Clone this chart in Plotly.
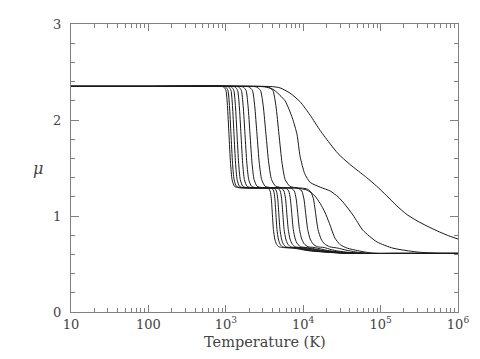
import plotly.graph_objects as go

# log10(T) and mean molecular weight for each curve
logT_1 = [1.0, 2.0, 2.921, 2.971, 3.001, 3.021, 3.041, 3.061, 3.081, 3.111, 3.161, 3.40, 3.523, 3.553, 3.573, 3.588, 3.603, 3.615, 3.633, 3.653, 3.683, 3.733, 3.88, 4.05, 4.35, 4.6, 5.2, 6.0]
mu_1 = [2.35, 2.35, 2.35, 2.345, 2.31, 2.15, 1.85, 1.55, 1.38, 1.31, 1.295, 1.293, 1.292, 1.285, 1.26, 1.18, 1.00, 0.86, 0.76, 0.71, 0.68, 0.672, 0.665, 0.64, 0.62, 0.61, 0.61, 0.61]

logT_2 = [1.0, 2.0, 2.947, 2.997, 3.027, 3.047, 3.067, 3.087, 3.107, 3.137, 3.187, 3.43, 3.569, 3.599, 3.619, 3.634, 3.649, 3.661, 3.679, 3.699, 3.729, 3.779, 3.92, 4.09, 4.38, 4.63, 5.2, 6.0]
mu_2 = [2.35, 2.35, 2.35, 2.345, 2.31, 2.15, 1.85, 1.55, 1.38, 1.31, 1.295, 1.293, 1.292, 1.285, 1.26, 1.18, 1.00, 0.86, 0.76, 0.71, 0.68, 0.672, 0.665, 0.64, 0.62, 0.61, 0.61, 0.61]

logT_3 = [1.0, 2.0, 2.986, 3.036, 3.066, 3.086, 3.106, 3.126, 3.146, 3.176, 3.226, 3.46, 3.599, 3.632, 3.654, 3.671, 3.687, 3.700, 3.720, 3.742, 3.775, 3.830, 3.96, 4.13, 4.41, 4.66, 5.2, 6.0]
mu_3 = [2.35, 2.35, 2.35, 2.345, 2.31, 2.15, 1.85, 1.55, 1.38, 1.31, 1.295, 1.293, 1.292, 1.285, 1.26, 1.18, 1.00, 0.86, 0.76, 0.71, 0.68, 0.672, 0.665, 0.64, 0.62, 0.61, 0.61, 0.61]

logT_4 = [1.0, 2.0, 3.019, 3.072, 3.103, 3.124, 3.145, 3.166, 3.187, 3.219, 3.271, 3.50, 3.643, 3.679, 3.703, 3.721, 3.739, 3.753, 3.775, 3.799, 3.835, 3.895, 4.0, 4.17, 4.44, 4.69, 5.2, 6.0]
mu_4 = [2.35, 2.35, 2.35, 2.345, 2.31, 2.15, 1.85, 1.55, 1.38, 1.31, 1.295, 1.293, 1.292, 1.285, 1.26, 1.18, 1.00, 0.86, 0.76, 0.71, 0.68, 0.672, 0.665, 0.64, 0.62, 0.61, 0.61, 0.61]

logT_5 = [1.0, 2.0, 3.064, 3.119, 3.152, 3.174, 3.196, 3.218, 3.240, 3.273, 3.328, 3.55, 3.687, 3.726, 3.752, 3.772, 3.791, 3.807, 3.830, 3.856, 3.895, 3.960, 4.06, 4.21, 4.47, 4.72, 5.2, 6.0]
mu_5 = [2.35, 2.35, 2.35, 2.345, 2.31, 2.15, 1.85, 1.55, 1.38, 1.31, 1.295, 1.293, 1.292, 1.285, 1.26, 1.18, 1.00, 0.86, 0.76, 0.71, 0.68, 0.672, 0.665, 0.64, 0.62, 0.61, 0.61, 0.61]

logT_6 = [1.0, 2.0, 3.104, 3.164, 3.200, 3.224, 3.248, 3.272, 3.296, 3.332, 3.392, 3.60, 3.743, 3.785, 3.813, 3.834, 3.855, 3.872, 3.897, 3.925, 3.967, 4.037, 4.12, 4.26, 4.50, 4.75, 5.2, 6.0]
mu_6 = [2.35, 2.35, 2.35, 2.345, 2.31, 2.15, 1.85, 1.55, 1.38, 1.31, 1.295, 1.293, 1.292, 1.285, 1.26, 1.18, 1.00, 0.86, 0.76, 0.71, 0.68, 0.672, 0.662, 0.64, 0.62, 0.61, 0.61, 0.61]

logT_7 = [1.0, 2.0, 3.157, 3.222, 3.261, 3.287, 3.313, 3.339, 3.365, 3.404, 3.469, 3.66, 3.805, 3.853, 3.885, 3.909, 3.933, 3.952, 3.981, 4.013, 4.061, 4.141, 4.22, 4.32, 4.54, 4.78, 5.2, 6.0]
mu_7 = [2.35, 2.35, 2.35, 2.345, 2.31, 2.15, 1.85, 1.55, 1.38, 1.31, 1.295, 1.293, 1.292, 1.285, 1.26, 1.18, 1.00, 0.86, 0.76, 0.71, 0.68, 0.672, 0.658, 0.64, 0.62, 0.61, 0.61, 0.61]

logT_8 = [1.0, 2.0, 3.223, 3.298, 3.343, 3.373, 3.403, 3.433, 3.463, 3.508, 3.583, 3.75, 3.892, 3.946, 3.982, 4.009, 4.036, 4.058, 4.090, 4.126, 4.180, 4.270, 4.36, 4.45, 4.6, 4.82, 5.2, 6.0]
mu_8 = [2.35, 2.35, 2.35, 2.345, 2.31, 2.15, 1.85, 1.55, 1.38, 1.31, 1.295, 1.293, 1.292, 1.285, 1.26, 1.18, 1.00, 0.86, 0.76, 0.71, 0.68, 0.672, 0.65, 0.635, 0.62, 0.61, 0.61, 0.61]

logT_9 = [1.0, 2.0, 3.303, 3.393, 3.447, 3.483, 3.519, 3.555, 3.591, 3.645, 3.735, 3.88, 3.99, 4.055, 4.099, 4.132, 4.165, 4.191, 4.231, 4.275, 4.341, 4.451, 4.55, 4.68, 4.85, 5.2, 6.0]
mu_9 = [2.35, 2.35, 2.35, 2.345, 2.31, 2.15, 1.85, 1.55, 1.38, 1.31, 1.295, 1.293, 1.29, 1.28, 1.25, 1.18, 1.00, 0.86, 0.76, 0.71, 0.68, 0.665, 0.645, 0.625, 0.612, 0.61, 0.61]

logT_10 = [1.0, 2.0, 3.447, 3.547, 3.607, 3.647, 3.687, 3.727, 3.767, 3.827, 3.93, 4.05, 4.15, 4.22, 4.28, 4.34, 4.41, 4.48, 4.57, 4.7, 4.85, 5.0, 5.4, 6.0]
mu_10 = [2.35, 2.35, 2.35, 2.345, 2.31, 2.15, 1.85, 1.55, 1.38, 1.31, 1.29, 1.27, 1.21, 1.13, 1.04, 0.92, 0.77, 0.70, 0.665, 0.64, 0.618, 0.61, 0.61, 0.61]

logT_11 = [1.0, 2.0, 3.40, 3.50, 3.61, 3.765, 3.86, 3.92, 3.96, 4.02, 4.09, 4.22, 4.35, 4.45, 4.53, 4.643, 4.773, 4.953, 5.16, 5.47, 5.75, 6.0]
mu_11 = [2.35, 2.35, 2.35, 2.345, 2.32, 2.20, 2.02, 1.85, 1.62, 1.44, 1.35, 1.30, 1.26, 1.20, 1.13, 1.01, 0.85, 0.73, 0.665, 0.625, 0.612, 0.61]

logT_12 = [1.0, 2.0, 3.50, 3.60, 3.70, 3.83, 3.96, 4.09, 4.22, 4.35, 4.45, 4.60, 4.82, 4.95, 5.08, 5.21, 5.34, 5.47, 5.60, 5.73, 5.86, 6.0]
mu_12 = [2.35, 2.35, 2.35, 2.348, 2.335, 2.28, 2.19, 2.05, 1.89, 1.75, 1.65, 1.54, 1.40, 1.31, 1.21, 1.105, 1.015, 0.95, 0.895, 0.845, 0.80, 0.76]

curves = [(logT_1, mu_1), (logT_2, mu_2), (logT_3, mu_3), (logT_4, mu_4),
          (logT_5, mu_5), (logT_6, mu_6), (logT_7, mu_7), (logT_8, mu_8),
          (logT_9, mu_9), (logT_10, mu_10), (logT_11, mu_11), (logT_12, mu_12)]

x_tickvals = [10, 100, 1e3, 1e4, 1e5, 1e6]
x_ticktext = ["10", "100", "10<sup>3</sup>", "10<sup>4</sup>", "10<sup>5</sup>", "10<sup>6</sup>"]
y_tickvals = [0, 1, 2, 3]
y_ticktext = ["0", "1", "2", "3"]

x_minor = [m * 10 ** d for d in range(1, 6) for m in range(2, 10)]
y_minor = [v / 10 for v in range(0, 31, 2) if v % 10 != 0]

fig = go.Figure()
for lt, mu in curves:
    fig.add_trace(go.Scatter(
        x=[10 ** v for v in lt], y=mu, mode="lines",
        line=dict(color="#1a1a1a", width=1, shape="spline", smoothing=0.6),
        showlegend=False, hoverinfo="skip"))

axis_col = "#808080"
font_fam = "DejaVu Serif"
# page body has an 8px margin, so the figure is sized 8px smaller than the window
fig.update_layout(
    width=472, height=351,
    margin=dict(l=63, r=22, t=9, b=47),
    paper_bgcolor="white", plot_bgcolor="white",
    font=dict(family=font_fam, size=13, color="#444444"),
    xaxis=dict(type="log", range=[1, 6], showgrid=False, zeroline=False,
               showline=True, linecolor=axis_col, linewidth=1, mirror="ticks",
               ticks="inside", ticklen=7, tickcolor=axis_col,
               tickmode="array", tickvals=x_tickvals, ticktext=x_ticktext,
               minor=dict(ticks="inside", ticklen=4, tickcolor=axis_col,
                          tickmode="array", tickvals=x_minor, showgrid=False)),
    yaxis=dict(range=[0, 3], showgrid=False, zeroline=False,
               showline=True, linecolor=axis_col, linewidth=1, mirror="ticks",
               ticks="inside", ticklen=8, tickcolor=axis_col,
               tickmode="array", tickvals=y_tickvals, ticktext=y_ticktext,
               ticklabelstandoff=6,
               minor=dict(ticks="inside", ticklen=4, tickcolor=axis_col,
                          tickmode="array", tickvals=y_minor, showgrid=False)),
    annotations=[
        dict(text="Temperature (K)", xref="paper", yref="paper", x=0.5, y=-0.105,
             xanchor="center", yanchor="middle", showarrow=False,
             font=dict(family=font_fam, size=14.5, color="#444444")),
        dict(text="<i>μ</i>", xref="paper", yref="paper", x=-0.085, y=0.5,
             xanchor="center", yanchor="middle", showarrow=False,
             font=dict(family=font_fam, size=16, color="#444444")),
    ],
)

fig.write_html("out.html")
